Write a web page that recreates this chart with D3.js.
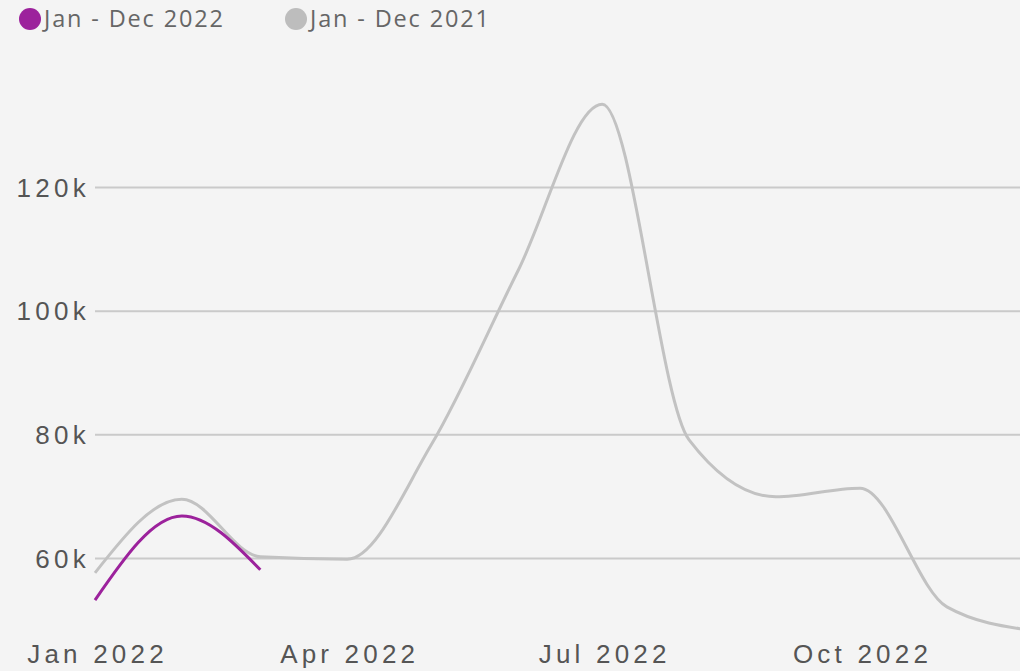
<!DOCTYPE html>
<html><head><meta charset="utf-8">
<script src="https://cdn.jsdelivr.net/npm/d3@7"></script>
<style>
html,body{margin:0;padding:0;background:#f4f4f4;overflow:hidden}
svg{display:block;font-family:"Open Sans",sans-serif}
</style></head><body>
<svg id="c" width="1020" height="671"></svg>
<script>
const months = ["2022-01-01","2022-02-01","2022-03-01","2022-04-01","2022-05-01","2022-06-01","2022-07-01","2022-08-01","2022-09-01","2022-10-01","2022-11-01","2022-12-01"];
const series2022 = [53200, 66800, 58100];
const series2021 = [57600, 69500, 60200, 59800, 78300, 106500, 133400, 79100, 69900, 71300, 52100, 48300];
const seriesNames = ["Jan - Dec 2022", "Jan - Dec 2021"];
const seriesColors = ["#9c229c", "#c2c2c2"];
const yTicks = [60000, 80000, 100000, 120000];
const xTicks = ["2022-01-01","2022-04-01","2022-07-01","2022-10-01"];

const W = 1020, H = 671;
const svg = d3.select("#c");
const parse = d3.utcParse("%Y-%m-%d");

const x = d3.scaleUtc().domain([parse("2022-01-01"), parse("2022-10-01")]).range([95, 860]);
const y = d3.scaleLinear().domain([60000, 120000]).range([558, 187]);

const yAxis = d3.axisLeft(y).tickValues(yTicks).tickFormat(d => d3.format("d")(d/1000) + "k").tickSize(-(W - 95)).tickPadding(8);
const gy = svg.append("g").attr("transform", "translate(95,0)").call(yAxis);
gy.select(".domain").remove();
gy.selectAll(".tick line").attr("stroke", "#cacaca").attr("stroke-width", 2);
gy.selectAll(".tick text").attr("fill", "#555").attr("font-size", 26).attr("font-weight", 500).attr("letter-spacing", "4.3px").attr("dy", "0.35em").attr("x", -5);

const xAxis = d3.axisBottom(x).tickValues(xTicks.map(parse)).tickFormat(d3.utcFormat("%b %Y")).tickSize(0).tickPadding(0);
const gx = svg.append("g").attr("transform", "translate(2,640)").call(xAxis);
gx.select(".domain").remove();
gx.selectAll(".tick text").attr("fill", "#555").attr("font-size", 26).attr("font-weight", 500).attr("letter-spacing", "4.2px").attr("dy", "0.9em");

const line = d3.line().x(d => x(d.date)).y(d => y(d.value)).curve(d3.curveMonotoneX);
const data2021 = series2021.map((v, i) => ({date: parse(months[i]), value: v}));
const data2022 = series2022.map((v, i) => ({date: parse(months[i]), value: v}));

svg.append("path").datum(data2021).attr("d", line).attr("fill", "none").attr("stroke", seriesColors[1]).attr("stroke-width", 3);
svg.append("path").datum(data2022).attr("d", line).attr("fill", "none").attr("stroke", seriesColors[0]).attr("stroke-width", 3);

const legX = [30, 296];
seriesNames.forEach((n, i) => {
  const g = svg.append("g").attr("transform", `translate(${legX[i]},19)`);
  g.append("circle").attr("r", 11).attr("fill", i === 0 ? "#9c229c" : "#bdbdbd");
  g.append("text").attr("x", 14).attr("y", 0).attr("dy", "0.36em").attr("fill", "#666").attr("font-size", 23.5).attr("font-weight", 500).attr("letter-spacing", "1.85px").text(n);
});
</script>
</body></html>
